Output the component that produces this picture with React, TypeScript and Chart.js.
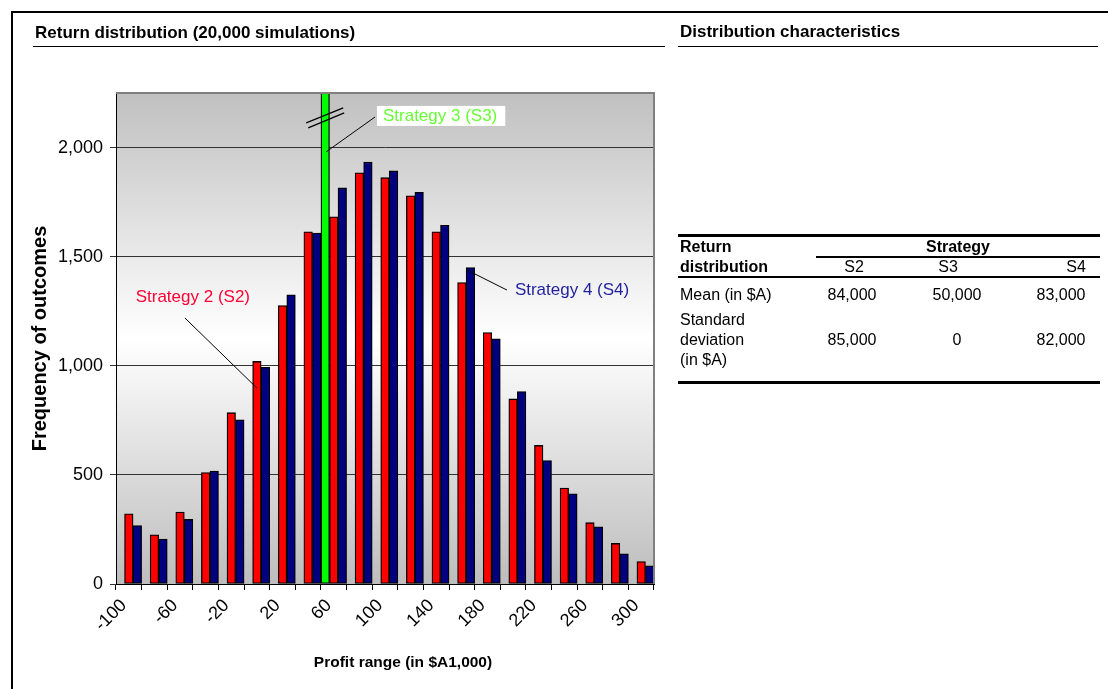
import React, { useEffect, useRef } from 'react';
import { Chart, registerables } from 'chart.js';

Chart.register(...registerables);

// ---------- data ----------
const categories = ['-100', '-80', '-60', '-40', '-20', '0', '20', '40', '60', '80', '100', '120', '140', '160', '180', '200', '220', '240', '260', '280', '300'];
const s2Values = [322, 225, 330, 511, 785, 1020, 1276, 1614, 1683, 1884, 1862, 1779, 1614, 1381, 1152, 848, 635, 440, 281, 186, 103];
const s3Values = [null, null, null, null, null, null, null, null, 20000, null, null, null, null, null, null, null, null, null, null, null, null];
const s4Values = [268, 206, 296, 517, 752, 993, 1325, 1608, 1815, 1933, 1893, 1795, 1644, 1450, 1124, 882, 566, 413, 262, 138, 83];
const yTickValues = [0, 500, 1000, 1500, 2000];
const yMax = 2250;

const tableColumns = ['S2', 'S3', 'S4'];
const meanValues = ['84,000', '50,000', '83,000'];
const stdValues = ['85,000', '0', '82,000'];

// callouts positioned in data units (category index, value)
const callouts = [
  { text: 'Strategy 2 (S2)', color: '#ff0033', at: [2.5, 1315], align: 'center', from: [2.19, 1219], to: [5.0, 898], box: false },
  { text: 'Strategy 3 (S3)', color: '#66ff33', at: [9.92, 2145], align: 'left', from: [9.61, 2140], to: [7.7, 1980], box: true },
  { text: 'Strategy 4 (S4)', color: '#1f1f9f', at: [15.07, 1347], align: 'left', from: [13.2, 1439], to: [14.76, 1347], box: false },
];
const breakValue = 2136;
const xTitle = 'Profit range (in $A1,000)';

const FONT = '"Liberation Sans", Arial, sans-serif';

const fmt = (v: number) => String(v).replace(/\B(?=(\d{3})+(?!\d))/g, ',');

const bgPlugin = {
  id: 'bgPlugin',
  beforeDraw(chart: any) {
    const { ctx, chartArea: a } = chart;
    const g = ctx.createLinearGradient(0, a.top, 0, a.bottom);
    g.addColorStop(0, '#c0c0c0');
    g.addColorStop(0.5, '#ffffff');
    g.addColorStop(1, '#bdbdbd');
    ctx.save();
    ctx.fillStyle = g;
    ctx.fillRect(a.left, a.top, a.right - a.left, a.bottom - a.top);
    ctx.restore();
  },
  afterDatasetsDraw(chart: any) {
    const { ctx, chartArea: a } = chart;
    ctx.save();
    ctx.strokeStyle = '#808080';
    ctx.lineWidth = 2;
    ctx.beginPath();
    ctx.moveTo(a.left, a.top);
    ctx.lineTo(a.right, a.top);
    ctx.lineTo(a.right, a.bottom);
    ctx.stroke();
    ctx.restore();
  },
};

const calloutPlugin = {
  id: 'calloutPlugin',
  afterDraw(chart: any) {
    const { ctx, chartArea: a } = chart;
    const xs = chart.scales.x;
    const ys = chart.scales.y;
    const px = (p: number[]) => [xs.getPixelForValue(p[0]), ys.getPixelForValue(p[1])];
    ctx.save();
    // break marks on the S3 bar
    const el = chart.getDatasetMeta(0).data[s3Values.findIndex((v) => v !== null)];
    if (el) {
      const by = ys.getPixelForValue(breakValue);
      ctx.strokeStyle = '#000';
      ctx.lineWidth = 1.2;
      ctx.beginPath();
      ctx.moveTo(el.x - 19, by + 5);
      ctx.lineTo(el.x + 18, by - 10);
      ctx.moveTo(el.x - 17, by + 10);
      ctx.lineTo(el.x + 19, by - 5);
      ctx.stroke();
    }
    ctx.font = `17px ${FONT}`;
    ctx.textBaseline = 'middle';
    for (const c of callouts) {
      const [fx, fy] = px(c.from);
      const [tx, ty] = px(c.to);
      ctx.strokeStyle = '#000';
      ctx.lineWidth = 1;
      ctx.beginPath();
      ctx.moveTo(fx, fy);
      ctx.lineTo(tx, ty);
      ctx.stroke();
      const [lx, ly] = px(c.at);
      const w = ctx.measureText(c.text).width;
      if (c.box) {
        const left = c.align === 'center' ? lx - w / 2 : lx;
        ctx.fillStyle = '#ffffff';
        ctx.fillRect(left - 6, ly - 10, w + 14, 20);
      }
      ctx.fillStyle = c.color;
      ctx.textAlign = c.align as CanvasTextAlign;
      ctx.fillText(c.text, lx, ly);
    }
    // x axis title (sits slightly right of the plot centre, as in the original)
    ctx.font = `bold 15.5px ${FONT}`;
    ctx.fillStyle = '#000';
    ctx.textAlign = 'center';
    ctx.textBaseline = 'middle';
    ctx.fillText(xTitle, (a.left + a.right) / 2 + 18, chart.height - 26);
    ctx.restore();
  },
};

function T(props: { x: number; y: number; w?: number; align?: string; bold?: boolean; size?: number; children: React.ReactNode }) {
  const { x, y, w, align, bold, size, children } = props;
  return (
    <div
      style={{
        position: 'absolute',
        left: x,
        top: y,
        width: w,
        textAlign: (align as any) || 'left',
        fontWeight: bold ? 700 : 400,
        fontSize: size || 16,
        lineHeight: '18px',
        whiteSpace: 'nowrap',
        color: '#000',
      }}
    >
      {children}
    </div>
  );
}

function Rule(props: { x: number; y: number; w: number; h: number }) {
  return <div style={{ position: 'absolute', left: props.x, top: props.y, width: props.w, height: props.h, background: '#000' }} />;
}

export default function App() {
  const canvasRef = useRef<HTMLCanvasElement>(null);

  useEffect(() => {
    const canvas = canvasRef.current;
    if (!canvas) return;
    const barStyle = { borderColor: '#000000', borderWidth: 1.3, categoryPercentage: 1, barPercentage: 1, borderSkipped: false as any };
    const chart = new Chart(canvas, {
      type: 'bar',
      data: {
        labels: categories,
        datasets: [
          { label: 'Strategy 3 (S3)', data: s3Values as any, backgroundColor: '#00ff00', ...barStyle },
          { label: 'Strategy 2 (S2)', data: s2Values, backgroundColor: '#ff0000', ...barStyle },
          { label: 'Strategy 4 (S4)', data: s4Values, backgroundColor: '#000080', ...barStyle },
        ],
      },
      options: {
        responsive: false,
        animation: false,
        layout: { padding: { top: 93, right: 26, left: 0, bottom: 0 } },
        plugins: { legend: { display: false }, tooltip: { enabled: false }, title: { display: false } },
        scales: {
          x: {
            offset: true,
            grid: { display: true, offset: true, drawOnChartArea: false, drawTicks: true, tickLength: 6, color: '#000' },
            border: { display: true, color: '#000', width: 1 },
            ticks: {
              autoSkip: false,
              maxRotation: 45,
              minRotation: 45,
              padding: 5,
              labelOffset: -5,
              color: '#000',
              font: { family: FONT, size: 18 },
              callback: (_v: any, i: number) => (i % 2 === 0 ? categories[i] : ''),
            },
            title: { display: false },
            afterFit: (s: any) => {
              s.height = 105;
            },
          },
          y: {
            min: 0,
            max: yMax,
            afterBuildTicks: (s: any) => {
              s.ticks = yTickValues.map((v) => ({ value: v }));
            },
            ticks: {
              padding: 7,
              color: '#000',
              font: { family: FONT, size: 18 },
              callback: (v: any) => fmt(Number(v)),
            },
            grid: { color: '#333333', lineWidth: 1, tickLength: 6, drawTicks: true },
            border: { display: true, color: '#000', width: 1 },
            title: {
              display: true,
              text: 'Frequency of outcomes',
              color: '#000',
              font: { family: FONT, size: 20, weight: 'bold' },
              padding: { top: 28, bottom: 0 },
            },
            afterFit: (s: any) => {
              s.width = 116;
            },
          },
        },
      } as any,
      plugins: [bgPlugin, calloutPlugin],
    });
    return () => chart.destroy();
  }, []);

  return (
    <div
      style={{
        position: 'fixed',
        left: 0,
        top: 0,
        width: 1108,
        height: 689,
        overflow: 'hidden',
        background: '#fff',
        fontFamily: FONT,
      }}
    >
      <canvas ref={canvasRef} width={680} height={689} style={{ position: 'absolute', left: 0, top: 0, width: 680, height: 689 }} />
      {/* outer frame */}
      <div style={{ position: 'absolute', left: 11, top: 11, width: 1200, height: 800, borderLeft: '2px solid #000', borderTop: '2px solid #000' }} />

      {/* headings */}
      <T x={35} y={24} bold size={17}>Return distribution (20,000 simulations)</T>
      <Rule x={33} y={46} w={632} h={1} />
      <T x={680} y={23} bold size={17}>Distribution characteristics</T>
      <Rule x={678} y={46} w={420} h={1} />

      {/* table */}
      <Rule x={678} y={234} w={422} h={3} />
      <T x={680} y={238} bold>Return</T>
      <T x={680} y={258} bold>distribution</T>
      <T x={816} y={238} w={284} align="center" bold>Strategy</T>
      <Rule x={816} y={256} w={284} h={2} />
      <T x={804} y={258} w={100} align="center">{tableColumns[0]}</T>
      <T x={898} y={258} w={100} align="center">{tableColumns[1]}</T>
      <T x={1026} y={258} w={100} align="center">{tableColumns[2]}</T>
      <Rule x={678} y={276} w={422} h={2} />
      <T x={680} y={286}>Mean (in $A)</T>
      <T x={802} y={286} w={100} align="center">{meanValues[0]}</T>
      <T x={907} y={286} w={100} align="center">{meanValues[1]}</T>
      <T x={1011} y={286} w={100} align="center">{meanValues[2]}</T>
      <T x={680} y={311}>Standard</T>
      <T x={680} y={331}>deviation</T>
      <T x={680} y={351}>(in $A)</T>
      <T x={802} y={331} w={100} align="center">{stdValues[0]}</T>
      <T x={907} y={331} w={100} align="center">{stdValues[1]}</T>
      <T x={1011} y={331} w={100} align="center">{stdValues[2]}</T>
      <Rule x={678} y={381} w={422} h={3} />
    </div>
  );
}
